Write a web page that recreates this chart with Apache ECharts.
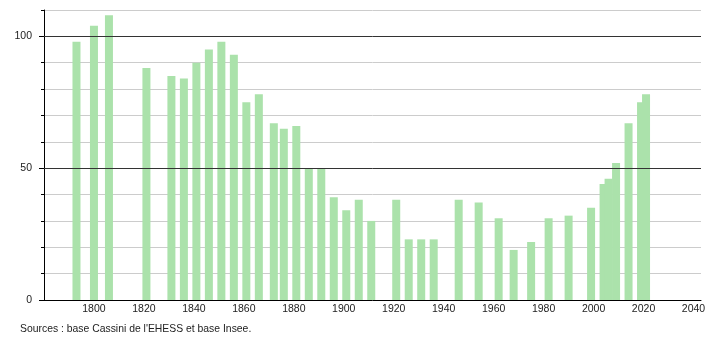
<!DOCTYPE html>
<html>
<head>
<meta charset="utf-8">
<script src="https://cdn.jsdelivr.net/npm/echarts@6/dist/echarts.min.js"></script>
<style>html,body{margin:0;padding:0;background:#fff}#c{width:710px;height:340px}</style>
</head>
<body>
<div id="c"></div>
<script>
var years = [1793, 1800, 1806, 1821, 1831, 1836, 1841, 1846, 1851, 1856, 1861, 1866, 1872, 1876, 1881, 1886, 1891, 1896, 1901, 1906, 1911, 1921, 1926, 1931, 1936, 1946, 1954, 1962, 1968, 1975, 1982, 1990, 1999, 2004, 2006, 2009, 2014, 2019, 2021];
var population = [98, 104, 108, 88, 85, 84, 90, 95, 98, 93, 75, 78, 67, 65, 66, 50, 50, 39, 34, 38, 30, 38, 23, 23, 23, 38, 37, 31, 19, 22, 31, 32, 35, 44, 46, 52, 67, 75, 78];
var xTickLabels = [1800, 1820, 1840, 1860, 1880, 1900, 1920, 1940, 1960, 1980, 2000, 2020, 2040];
var yTickLabels = [0, 50, 100];
var majorLines = [50, 100];
var sourceText = "Sources : base Cassini de l'EHESS et base Insee.";

var font = 'Liberation Sans, Arial, sans-serif';
var chart = echarts.init(document.getElementById('c'), null, {renderer: 'canvas'});
var barData = years.map(function (y, i) { return [y, population[i]]; });

chart.setOption({
  animation: false,
  backgroundColor: '#fff',
  grid: {left: 44, right: 9, top: 10, bottom: 40, containLabel: false},
  xAxis: {
    type: 'value', min: 1780, max: 2043, interval: 20,
    axisLine: {show: true, onZero: false, lineStyle: {color: '#000', width: 1}},
    axisTick: {show: false},
    splitLine: {show: false},
    axisLabel: {
      color: '#222', fontFamily: font, fontSize: 10.5, margin: 4,
      showMinLabel: true, showMaxLabel: true,
      formatter: function (v) { return xTickLabels.indexOf(v) >= 0 ? String(v) : ''; }
    }
  },
  yAxis: [{
    type: 'value', min: 0, max: 110, interval: 10,
    axisLine: {show: true, lineStyle: {color: '#000', width: 1}},
    axisTick: {show: true, length: 3, lineStyle: {color: '#000'}},
    axisLabel: {show: false},
    splitLine: {show: true, lineStyle: {color: '#cccccc', width: 1}}
  }, {
    type: 'value', min: 0, max: 110, interval: 50, position: 'left',
    axisLine: {show: false},
    axisTick: {show: true, length: 5, lineStyle: {color: '#000'}, customValues: yTickLabels},
    axisLabel: {
      color: '#222', fontFamily: font, fontSize: 10.5, margin: 12,
      customValues: yTickLabels,
      formatter: function (v) { return yTickLabels.indexOf(v) >= 0 ? String(v) : ''; }
    },
    splitLine: {show: false}
  }],
  series: [{
    type: 'line', data: [], z: 1, silent: true,
    markLine: {
      silent: true, symbol: ['none', 'none'], label: {show: false},
      lineStyle: {color: '#333', width: 1, type: 'solid'},
      data: majorLines.map(function (v) { return {yAxis: v}; })
    }
  }, {
    type: 'bar', data: barData, barWidth: 8, z: 2,
    itemStyle: {color: '#abe2ab'}
  }],
  graphic: [{
    type: 'text', left: 20, top: 324,
    style: {text: sourceText, fill: '#222', font: '10.4px ' + font}
  }]
});
</script>
</body>
</html>
